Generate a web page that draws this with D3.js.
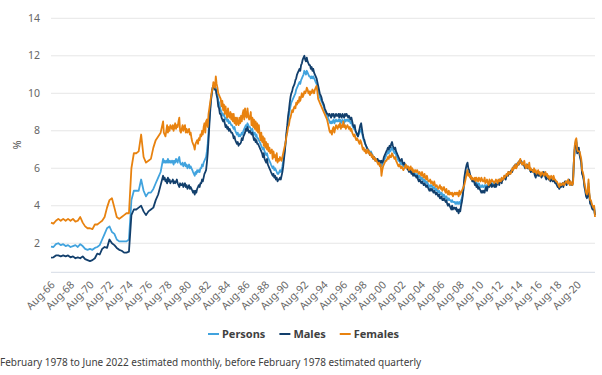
<!DOCTYPE html>
<html>
<head>
<meta charset="utf-8">
<script src="https://cdn.jsdelivr.net/npm/d3@7"></script>
<style>
  body { margin: 0; background: #fff; }
  svg text { font-family: "Segoe UI", "Noto Sans", sans-serif; }
</style>
</head>
<body>
<div id="chart"></div>
<script>
// quarterly estimates, Aug-66 to Nov-77
let personsQ = [1.82, 1.8, 1.95, 2.0, 1.9, 1.95, 1.85, 1.9, 1.8, 1.85, 1.9, 1.8, 1.95, 1.85, 1.7, 1.65,
  1.7, 1.65, 1.75, 1.8, 1.9, 2.2, 2.5, 2.8, 2.9, 2.6, 2.5, 2.2, 2.1, 2.1, 2.1, 2.1,
  2.2, 4.3, 4.8, 4.8, 4.8, 5.4, 4.8, 4.5, 4.7, 4.7, 4.9, 5.2, 5.5, 5.8];
let malesQ = [1.23, 1.25, 1.35, 1.35, 1.3, 1.35, 1.3, 1.35, 1.25, 1.3, 1.2, 1.25, 1.2, 1.3, 1.15, 1.1,
  1.05, 1.1, 1.2, 1.45, 1.4, 1.7, 1.8, 1.75, 2.2, 2.0, 1.9, 1.75, 1.65, 1.6, 1.5, 1.5,
  1.55, 3.5, 3.8, 3.8, 3.9, 4.0, 3.7, 3.5, 3.7, 3.8, 3.9, 4.3, 4.6, 5.1];
let femalesQ = [3.1, 3.05, 3.2, 3.3, 3.2, 3.3, 3.2, 3.3, 3.2, 3.3, 3.15, 3.2, 3.4, 3.1, 2.9, 2.8,
  2.8, 2.75, 3.0, 3.0, 3.1, 3.2, 3.4, 3.9, 4.3, 4.4, 3.9, 3.4, 3.3, 3.4, 3.5, 3.6,
  3.6, 6.0, 6.8, 6.8, 6.9, 7.8, 6.6, 6.3, 6.4, 6.5, 7.1, 7.5, 7.7, 7.9];

// monthly estimates, Feb-78 to Jun-22 (one row per year)
let personsM = [
  6.5, 6.3, 6.4, 6.3, 6.4, 6.3, 6.5, 6.3, 6.4, 6.3, 6.4,
  6.3, 6.4, 6.2, 6.4, 6.3, 6.5, 6.4, 6.3, 6.5, 6.6, 6.3, 6.2,
  6.2, 6.3, 6.1, 6.2, 6.3, 6.1, 6.2, 6.0, 6.1, 6.2, 6.0, 6.1,
  6.0, 5.9, 5.8, 5.7, 5.6, 5.8, 5.7, 5.9, 5.8, 5.9, 5.8, 6.0,
  6.0, 6.2, 6.1, 6.3, 6.4, 6.5, 6.6, 6.9, 7.3, 7.9, 8.6, 9.2,
  9.7, 10.0, 10.2, 10.4, 10.3, 10.2, 10.3, 10.0, 9.9, 9.6, 9.5, 9.3,
  9.1, 9.0, 8.9, 8.8, 8.9, 8.7, 8.6, 8.7, 8.5, 8.6, 8.4, 8.5,
  8.4, 8.3, 8.3, 8.2, 8.1, 8.2, 8.0, 7.9, 7.8, 7.9, 7.7, 7.8,
  7.7, 7.8, 7.9, 7.8, 8.0, 8.1, 8.2, 8.3, 8.2, 8.4, 8.3, 8.2,
  8.2, 8.1, 8.0, 8.1, 7.9, 7.8, 7.9, 7.7, 7.8, 7.6, 7.6, 7.5,
  7.4, 7.3, 7.2, 7.1, 7.0, 7.1, 6.9, 6.8, 6.7, 6.8, 6.6, 6.5,
  6.4, 6.3, 6.2, 6.1, 6.0, 6.1, 5.9, 6.0, 5.9, 5.8, 5.7, 5.7,
  5.8, 5.9, 5.8, 5.9, 6.1, 6.4, 6.7, 7.0, 7.4, 7.8, 8.1, 8.5,
  8.8, 9.1, 9.3, 9.5, 9.6, 9.7, 9.8, 9.9, 10.0, 10.2, 10.3, 10.4,
  10.5, 10.6, 10.5, 10.7, 10.8, 10.9, 11.0, 11.2, 11.1, 11.0, 11.2, 11.1,
  11.0, 10.9, 10.9, 10.8, 10.9, 10.8, 10.9, 10.8, 10.7, 10.6, 10.5, 10.4,
  10.2, 10.0, 9.8, 9.7, 9.6, 9.5, 9.4, 9.3, 9.1, 9.0, 8.9, 8.8,
  8.7, 8.6, 8.5, 8.4, 8.5, 8.4, 8.5, 8.6, 8.4, 8.5, 8.6, 8.5,
  8.5, 8.6, 8.5, 8.6, 8.4, 8.5, 8.6, 8.5, 8.4, 8.6, 8.5, 8.6,
  8.6, 8.5, 8.6, 8.5, 8.4, 8.5, 8.3, 8.2, 8.1, 8.2, 8.0, 7.9,
  7.8, 7.7, 7.8, 7.9, 8.0, 8.1, 7.9, 7.7, 7.5, 7.4, 7.3, 7.2,
  7.1, 7.0, 7.0, 6.9, 6.8, 6.9, 6.8, 6.7, 6.6, 6.6, 6.5, 6.5,
  6.4, 6.5, 6.4, 6.3, 6.4, 6.3, 6.1, 6.2, 6.3, 6.4, 6.5, 6.6,
  6.7, 6.8, 6.9, 6.8, 7.0, 6.9, 7.0, 7.1, 7.0, 6.9, 6.8, 6.9,
  6.7, 6.6, 6.5, 6.4, 6.4, 6.3, 6.2, 6.3, 6.2, 6.1, 6.2, 6.1,
  6.1, 6.0, 6.1, 6.0, 5.9, 6.0, 5.9, 5.8, 5.9, 5.7, 5.8, 5.7,
  5.7, 5.6, 5.7, 5.6, 5.5, 5.6, 5.5, 5.4, 5.5, 5.4, 5.3, 5.4,
  5.3, 5.2, 5.3, 5.2, 5.1, 5.0, 5.1, 5.0, 5.1, 5.0, 4.9, 5.0,
  4.9, 4.8, 4.9, 4.8, 4.7, 4.8, 4.7, 4.6, 4.7, 4.6, 4.5, 4.6,
  4.5, 4.4, 4.5, 4.4, 4.3, 4.4, 4.3, 4.3, 4.2, 4.3, 4.2, 4.2,
  4.2, 4.1, 4.2, 4.1, 4.2, 4.1, 4.2, 4.1, 4.3, 4.4, 4.6, 4.9,
  5.3, 5.5, 5.6, 5.8, 5.9, 5.8, 5.7, 5.6, 5.5, 5.4, 5.3, 5.4,
  5.3, 5.2, 5.3, 5.2, 5.2, 5.1, 5.2, 5.1, 5.0, 5.0, 5.1, 5.0,
  5.0, 5.1, 5.0, 5.1, 5.0, 5.1, 5.1, 5.2, 5.1, 5.2, 5.1, 5.2,
  5.2, 5.1, 5.2, 5.1, 5.2, 5.2, 5.3, 5.2, 5.4, 5.3, 5.3, 5.4,
  5.4, 5.5, 5.6, 5.5, 5.6, 5.7, 5.7, 5.8, 5.7, 5.8, 5.9, 5.9,
  6.0, 6.1, 6.0, 6.1, 6.2, 6.1, 6.3, 6.2, 6.3, 6.4, 6.3, 6.3,
  6.3, 6.2, 6.2, 6.1, 6.0, 6.1, 6.2, 6.0, 6.1, 5.9, 5.8, 5.9,
  5.9, 5.8, 5.9, 5.7, 5.8, 5.7, 5.8, 5.7, 5.6, 5.7, 5.7, 5.6,
  5.7, 5.8, 5.7, 5.6, 5.6, 5.5, 5.6, 5.6, 5.5, 5.5, 5.4, 5.5,
  5.5, 5.4, 5.5, 5.4, 5.3, 5.3, 5.2, 5.1, 5.0, 5.0, 5.1, 5.0,
  5.1, 5.2, 5.1, 5.2, 5.2, 5.3, 5.2, 5.3, 5.2, 5.3, 5.2, 5.1,
  5.2, 5.1, 5.3, 6.4, 7.1, 7.4, 7.5, 6.9, 6.9, 7.0, 6.8, 6.6,
  6.4, 5.8, 5.7, 5.5, 5.1, 4.9, 4.6, 4.5, 4.6, 5.2, 4.6, 4.2,
  4.2, 4.0, 3.9, 3.9, 3.9, 3.5];
let malesM = [
  5.6, 5.4, 5.5, 5.3, 5.4, 5.2, 5.5, 5.3, 5.4, 5.2, 5.3,
  5.3, 5.4, 5.2, 5.3, 5.2, 5.3, 5.4, 5.2, 5.1, 5.0, 5.2, 5.1,
  5.1, 5.2, 5.0, 5.1, 5.2, 5.0, 5.1, 4.9, 5.0, 5.1, 4.9, 5.0,
  4.9, 4.8, 4.7, 4.8, 4.6, 4.8, 4.7, 4.9, 5.0, 5.1, 5.0, 5.2,
  5.2, 5.4, 5.3, 5.5, 5.7, 5.8, 5.9, 6.3, 6.8, 7.5, 8.3, 9.0,
  9.6, 10.0, 10.3, 10.4, 10.3, 10.2, 10.2, 9.9, 9.7, 9.3, 9.2, 8.9,
  8.9, 8.7, 8.6, 8.5, 8.6, 8.4, 8.2, 8.3, 8.1, 8.2, 8.0, 8.1,
  8.0, 7.9, 7.9, 7.8, 7.6, 7.7, 7.5, 7.4, 7.3, 7.4, 7.2, 7.3,
  7.3, 7.4, 7.6, 7.5, 7.7, 7.8, 7.9, 8.1, 8.0, 8.2, 8.0, 7.9,
  8.0, 7.9, 7.8, 7.9, 7.7, 7.5, 7.6, 7.4, 7.5, 7.3, 7.3, 7.2,
  7.1, 7.0, 6.9, 6.8, 6.6, 6.8, 6.5, 6.4, 6.3, 6.5, 6.2, 6.1,
  6.0, 5.9, 5.8, 5.7, 5.6, 5.7, 5.5, 5.6, 5.4, 5.5, 5.3, 5.4,
  5.4, 5.5, 5.4, 5.6, 5.8, 6.1, 6.5, 6.9, 7.4, 7.9, 8.3, 8.8,
  9.1, 9.5, 9.8, 10.0, 10.1, 10.3, 10.4, 10.5, 10.7, 10.8, 11.0, 11.1,
  11.2, 11.3, 11.2, 11.5, 11.6, 11.8, 11.9, 12.0, 11.8, 11.7, 11.9, 11.7,
  11.6, 11.5, 11.5, 11.3, 11.4, 11.2, 11.3, 11.1, 11.0, 10.9, 10.8, 10.6,
  10.4, 10.2, 10.0, 9.9, 9.8, 9.6, 9.5, 9.4, 9.2, 9.1, 9.0, 8.9,
  8.9, 8.8, 8.9, 8.8, 8.7, 8.9, 8.8, 8.9, 8.7, 8.8, 8.9, 8.8,
  8.8, 8.9, 8.7, 8.9, 8.8, 8.7, 8.9, 8.8, 8.7, 8.9, 8.8, 8.9,
  8.8, 8.7, 8.8, 8.7, 8.6, 8.7, 8.5, 8.3, 8.2, 8.3, 8.0, 7.9,
  7.8, 7.7, 7.9, 8.1, 8.3, 8.4, 8.1, 7.8, 7.6, 7.5, 7.3, 7.2,
  7.1, 7.0, 6.9, 6.8, 6.7, 6.8, 6.7, 6.6, 6.5, 6.6, 6.5, 6.4,
  6.4, 6.5, 6.4, 6.3, 6.4, 6.3, 6.4, 6.3, 6.4, 6.6, 6.7, 6.8,
  6.9, 7.0, 7.1, 7.0, 7.2, 7.1, 7.3, 7.4, 7.2, 7.1, 7.0, 7.1,
  6.9, 6.8, 6.7, 6.6, 6.5, 6.4, 6.4, 6.5, 6.3, 6.2, 6.3, 6.2,
  6.1, 6.0, 6.0, 5.9, 5.8, 5.9, 5.8, 5.7, 5.8, 5.6, 5.7, 5.6,
  5.6, 5.5, 5.6, 5.4, 5.3, 5.4, 5.3, 5.2, 5.3, 5.2, 5.1, 5.2,
  5.1, 5.0, 5.1, 5.0, 4.9, 4.8, 4.9, 4.8, 4.9, 4.8, 4.7, 4.8,
  4.7, 4.6, 4.7, 4.6, 4.5, 4.6, 4.4, 4.4, 4.5, 4.3, 4.3, 4.4,
  4.3, 4.2, 4.3, 4.1, 4.0, 4.1, 4.0, 3.9, 3.8, 4.0, 3.8, 3.9,
  3.9, 3.8, 3.9, 3.7, 3.8, 3.6, 3.8, 3.7, 4.0, 4.2, 4.5, 4.9,
  5.5, 5.8, 6.0, 6.2, 6.3, 6.0, 5.9, 5.7, 5.5, 5.4, 5.3, 5.4,
  5.3, 5.1, 5.2, 5.0, 5.1, 4.9, 5.0, 4.9, 4.8, 4.7, 4.8, 4.7,
  4.8, 4.7, 4.9, 5.0, 4.8, 5.0, 5.1, 5.0, 5.1, 5.2, 5.0, 5.1,
  5.1, 5.0, 5.2, 5.0, 5.1, 5.2, 5.3, 5.1, 5.4, 5.3, 5.2, 5.4,
  5.4, 5.5, 5.6, 5.4, 5.6, 5.7, 5.6, 5.8, 5.7, 5.8, 5.9, 5.8,
  6.0, 6.1, 6.0, 6.2, 6.1, 6.2, 6.3, 6.2, 6.4, 6.3, 6.4, 6.3,
  6.2, 6.3, 6.1, 6.0, 6.1, 6.2, 6.0, 6.1, 6.0, 5.9, 5.8, 5.9,
  5.9, 5.8, 5.8, 5.6, 5.5, 5.7, 5.8, 5.6, 5.7, 5.6, 5.7, 5.5,
  5.6, 5.7, 5.8, 5.7, 5.5, 5.4, 5.5, 5.6, 5.4, 5.5, 5.3, 5.4,
  5.4, 5.3, 5.4, 5.3, 5.2, 5.2, 5.1, 5.0, 5.0, 4.9, 5.0, 5.0,
  5.1, 5.2, 5.0, 5.2, 5.3, 5.2, 5.1, 5.3, 5.2, 5.4, 5.3, 5.2,
  5.2, 5.1, 5.4, 6.4, 7.0, 7.3, 7.4, 6.8, 6.9, 7.1, 6.7, 6.5,
  6.3, 5.7, 5.6, 5.4, 5.0, 4.8, 4.5, 4.4, 4.5, 5.0, 4.5, 4.1,
  4.1, 3.9, 3.8, 3.8, 3.8, 3.5];
let femalesM = [
  8.5, 7.9, 7.8, 7.7, 8.0, 8.3, 7.9, 8.2, 8.0, 8.3, 8.2,
  8.1, 8.3, 8.0, 8.2, 8.4, 8.1, 8.3, 8.2, 8.5, 8.7, 8.0, 7.9,
  8.1, 8.3, 8.0, 8.2, 8.3, 7.9, 8.1, 7.9, 8.0, 8.1, 7.8, 7.9,
  7.6, 7.4, 7.3, 7.2, 7.0, 7.3, 7.4, 7.5, 7.3, 7.6, 7.5, 7.8,
  7.7, 8.0, 7.8, 8.2, 8.4, 7.9, 8.5, 8.6, 8.2, 8.9, 9.2, 9.5,
  9.8, 10.1, 10.2, 10.6, 10.4, 10.3, 10.9, 10.5, 10.3, 10.0, 9.9, 9.8,
  9.7, 9.3, 9.6, 9.1, 9.4, 8.9, 9.3, 8.9, 8.7, 9.2, 8.8, 8.7,
  9.0, 8.6, 8.9, 8.5, 8.9, 8.4, 8.7, 8.3, 8.7, 8.4, 8.3, 8.7,
  8.4, 8.8, 8.5, 8.9, 9.1, 8.6, 9.2, 8.8, 8.7, 9.2, 8.8, 8.6,
  8.7, 9.0, 8.3, 8.7, 8.2, 8.6, 8.1, 8.5, 8.0, 8.4, 7.9, 8.3,
  7.8, 7.5, 7.9, 7.4, 7.7, 7.2, 7.6, 7.1, 7.4, 7.0, 7.3, 6.9,
  7.1, 6.8, 6.9, 7.0, 6.5, 6.9, 6.6, 6.7, 6.4, 6.8, 6.3, 6.5,
  6.4, 6.6, 6.5, 6.4, 6.6, 6.8, 7.0, 7.2, 7.4, 7.7, 7.9, 8.2,
  8.3, 8.6, 8.7, 8.9, 9.1, 9.0, 9.2, 9.3, 9.2, 9.5, 9.4, 9.6,
  9.5, 9.8, 9.6, 9.8, 10.0, 9.8, 9.9, 10.1, 10.0, 10.1, 10.3, 10.2,
  10.0, 10.1, 9.9, 10.1, 10.0, 10.2, 10.1, 10.0, 10.2, 10.3, 10.4, 10.1,
  9.7, 9.6, 9.5, 9.4, 9.3, 9.2, 9.1, 9.0, 8.9, 8.8, 8.7, 8.6,
  8.4, 8.2, 8.0, 7.9, 8.0, 7.8, 8.1, 8.2, 7.9, 8.1, 8.3, 8.2,
  8.1, 8.3, 8.2, 8.4, 8.1, 8.3, 8.2, 8.5, 8.2, 8.3, 8.1, 8.2,
  8.3, 8.2, 8.1, 8.2, 8.0, 8.1, 7.9, 7.8, 7.7, 7.8, 7.6, 7.5,
  7.6, 7.5, 7.4, 7.3, 7.5, 7.4, 7.2, 7.0, 7.1, 6.9, 7.0, 6.8,
  6.9, 7.0, 6.8, 6.9, 6.7, 6.8, 6.6, 6.7, 6.5, 6.6, 6.4, 6.5,
  6.4, 6.3, 6.2, 6.3, 6.1, 6.2, 5.6, 5.9, 6.1, 6.2, 6.3, 6.4,
  6.4, 6.5, 6.6, 6.5, 6.7, 6.6, 6.6, 6.8, 6.7, 6.6, 6.5, 6.6,
  6.4, 6.3, 6.2, 6.1, 6.2, 6.1, 6.0, 6.1, 6.0, 5.9, 6.0, 6.1,
  6.2, 6.0, 6.1, 6.1, 5.9, 6.0, 6.1, 5.9, 6.0, 5.8, 5.9, 5.8,
  5.9, 5.8, 5.9, 5.8, 5.7, 5.8, 5.7, 5.6, 5.8, 5.6, 5.5, 5.7,
  5.5, 5.4, 5.6, 5.4, 5.3, 5.3, 5.4, 5.2, 5.3, 5.2, 5.1, 5.3,
  5.1, 5.0, 5.1, 5.0, 4.9, 5.0, 5.1, 4.9, 5.0, 4.8, 4.9, 5.0,
  4.8, 4.7, 4.9, 4.7, 4.6, 4.8, 4.6, 4.7, 4.6, 4.7, 4.5, 4.6,
  4.7, 4.6, 4.7, 4.6, 4.7, 4.5, 4.8, 4.6, 4.7, 4.8, 4.9, 5.0,
  5.1, 5.3, 5.5, 5.7, 5.9, 5.6, 5.7, 5.5, 5.6, 5.4, 5.5, 5.4,
  5.4, 5.5, 5.3, 5.5, 5.4, 5.3, 5.5, 5.4, 5.3, 5.5, 5.4, 5.3,
  5.3, 5.5, 5.2, 5.3, 5.4, 5.2, 5.1, 5.4, 5.2, 5.3, 5.4, 5.3,
  5.3, 5.2, 5.3, 5.4, 5.3, 5.2, 5.4, 5.3, 5.4, 5.3, 5.5, 5.4,
  5.4, 5.6, 5.5, 5.6, 5.7, 5.6, 5.8, 5.7, 5.8, 5.7, 5.8, 6.0,
  5.9, 6.1, 6.0, 6.2, 6.0, 6.1, 6.3, 6.2, 6.4, 6.5, 6.3, 6.2,
  6.3, 6.2, 6.4, 6.1, 6.0, 6.2, 6.1, 6.0, 6.3, 5.9, 6.0, 5.9,
  5.9, 5.8, 6.0, 5.8, 5.9, 5.7, 5.8, 5.9, 5.7, 5.8, 5.6, 5.7,
  5.8, 5.7, 5.6, 5.7, 5.8, 5.6, 5.7, 5.5, 5.6, 5.4, 5.5, 5.6,
  5.5, 5.4, 5.6, 5.4, 5.4, 5.3, 5.3, 5.2, 5.1, 5.0, 5.2, 5.1,
  5.1, 5.2, 5.2, 5.1, 5.2, 5.3, 5.3, 5.2, 5.4, 5.2, 5.1, 5.3,
  5.2, 5.1, 5.2, 6.4, 7.2, 7.5, 7.6, 7.0, 6.9, 6.9, 6.9, 6.7,
  6.5, 5.9, 5.8, 5.6, 5.2, 5.0, 4.7, 4.6, 4.8, 5.4, 4.7, 4.3,
  4.3, 4.1, 4.0, 3.9, 4.0, 3.4];

let seriesNames = ['Persons', 'Males', 'Females'];
let seriesColors = ['#41a3de', '#123f6c', '#e8820f'];
let yTicks = [2, 4, 6, 8, 10, 12, 14];
let xTickLabels = ['Aug-66', 'Aug-68', 'Aug-70', 'Aug-72', 'Aug-74', 'Aug-76', 'Aug-78', 'Aug-80',
  'Aug-82', 'Aug-84', 'Aug-86', 'Aug-88', 'Aug-90', 'Aug-92', 'Aug-94', 'Aug-96', 'Aug-98',
  'Aug-00', 'Aug-02', 'Aug-04', 'Aug-06', 'Aug-08', 'Aug-10', 'Aug-12', 'Aug-14', 'Aug-16',
  'Aug-18', 'Aug-20'];
let footnote = 'February 1978 to June 2022 estimated monthly, before February 1978 estimated quarterly';

function build(q, m) {
  let pts = q.map((v, i) => ({date: new Date(1966, 7 + 3 * i, 1), value: v}));
  m.forEach((v, i) => pts.push({date: new Date(1978, 1 + i, 1), value: v}));
  return pts;
}
let series = [build(personsQ, personsM), build(malesQ, malesM), build(femalesQ, femalesM)];

function parseLabel(s) {
  let yy = +s.slice(4);
  return new Date(yy >= 50 ? 1900 + yy : 2000 + yy, 7, 1);
}

let svgWidth = 602, svgHeight = 375;
let svg = d3.select('#chart').append('svg')
  .attr('width', svgWidth)
  .attr('height', svgHeight);

let x = d3.scaleTime()
  .domain([new Date(1966, 7, 1), new Date(2022, 5, 1)])
  .range([51, 595]);
let y = d3.scaleLinear()
  .domain([0.45, 14])
  .range([272.3, 18.3]);

// gridlines
svg.append('g')
  .selectAll('line')
  .data(yTicks)
  .join('line')
    .attr('x1', 51).attr('x2', 595)
    .attr('y1', d => y(d)).attr('y2', d => y(d))
    .attr('stroke', '#e6e6e6')
    .attr('stroke-width', 1);

// y labels
svg.append('g')
  .selectAll('text')
  .data(yTicks)
  .join('text')
    .attr('x', 40)
    .attr('y', d => y(d))
    .attr('dy', '0.35em')
    .attr('text-anchor', 'end')
    .attr('font-size', 10.5)
    .attr('fill', '#666')
    .text(d => d);

svg.append('text')
  .attr('transform', 'translate(17,145) rotate(-90)')
  .attr('text-anchor', 'middle')
  .attr('dy', '0.35em')
  .attr('font-size', 11)
  .attr('fill', '#555')
  .text('%');

// x axis line
svg.append('line')
  .attr('x1', 51).attr('x2', 595)
  .attr('y1', y(0.45)).attr('y2', y(0.45))
  .attr('stroke', '#d5dbe5');

// x labels
svg.append('g')
  .selectAll('text')
  .data(xTickLabels)
  .join('text')
    .attr('transform', d => `translate(${x(parseLabel(d)) + 2},${283}) rotate(-45)`)
    .attr('text-anchor', 'end')
    .attr('dy', '0.35em')
    .attr('font-size', 10.5)
    .attr('fill', '#666')
    .text(d => d);

// lines
let line = d3.line()
  .x(d => x(d.date))
  .y(d => y(d.value));

svg.append('g')
  .selectAll('path')
  .data(series)
  .join('path')
    .attr('d', line)
    .attr('fill', 'none')
    .attr('stroke', (d, i) => seriesColors[i])
    .attr('stroke-width', 1.8)
    .attr('stroke-linejoin', 'round');

// legend
let legend = svg.append('g');
let lx = 208;
seriesNames.forEach((name, i) => {
  legend.append('line')
    .attr('x1', lx).attr('x2', lx + 11)
    .attr('y1', 334).attr('y2', 334)
    .attr('stroke', seriesColors[i])
    .attr('stroke-width', 2);
  let t = legend.append('text')
    .attr('x', lx + 14)
    .attr('y', 334)
    .attr('dy', '0.35em')
    .attr('font-size', 11)
    .attr('font-weight', 'bold')
    .attr('fill', '#404040')
    .text(name);
  lx += 14 + t.node().getComputedTextLength() + 14;
});

svg.append('text')
  .attr('x', 0)
  .attr('y', 366)
  .attr('font-size', 10)
  .attr('fill', '#404040')
  .text(footnote);
</script>
</body>
</html>
